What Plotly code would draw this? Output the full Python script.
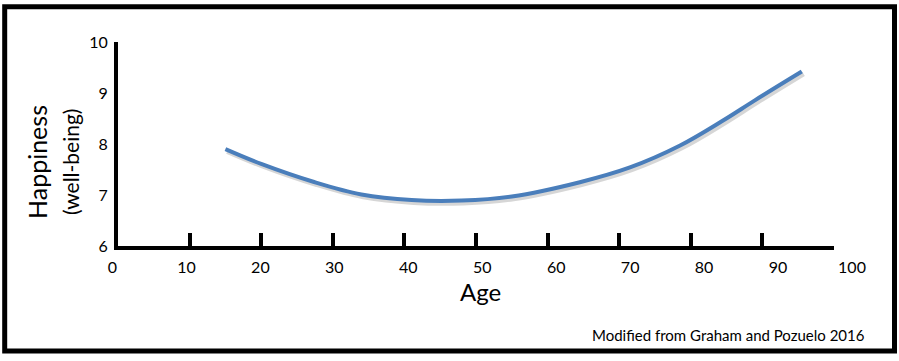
import plotly.graph_objects as go

# ---- data ----
ages = [15, 20, 27.5, 34, 41, 48, 55, 64.5, 71.5, 78.5, 84.5, 89, 95.5]
happiness = [7.90, 7.61, 7.25, 7.01, 6.90, 6.89, 6.97, 7.25, 7.54, 7.97, 8.46, 8.86, 9.42]
x_ticks = [0, 10, 20, 30, 40, 50, 60, 70, 80, 90, 100]
y_ticks = [6, 7, 8, 9, 10]

W, H = 899, 361
FONT = "Lato"

def px_x(p):
    return p / W

def px_y(p):
    return 1 - p / H

fig = go.Figure()

# soft drop shadow of the curve
fig.add_trace(go.Scatter(
    x=[a + 0.25 for a in ages], y=[v - 0.045 for v in happiness],
    mode="lines", line=dict(color="rgba(0,0,0,0.16)", width=5, shape="spline", smoothing=1.0),
    hoverinfo="skip", showlegend=False))

fig.add_trace(go.Scatter(
    x=ages, y=happiness, mode="lines",
    line=dict(color="#4a7ebb", width=4, shape="spline", smoothing=1.0),
    showlegend=False))

# invisible trace carrying the tick-label axis
fig.add_trace(go.Scatter(x=[x_ticks[0], x_ticks[-1]], y=[0, 0],
                         xaxis="x2", yaxis="y2", mode="markers", marker=dict(opacity=0),
                         hoverinfo="skip", showlegend=False))

fig.update_layout(
    width=W, height=H,
    margin=dict(l=0, r=0, t=0, b=0, autoexpand=False),
    paper_bgcolor="white", plot_bgcolor="rgba(0,0,0,0)",
    font=dict(family=FONT, color="black"),
    xaxis=dict(
        domain=[px_x(118), px_x(834)], range=[0, 100], automargin=False,
        anchor="y", showline=True, linewidth=4, linecolor="black",
        ticks="inside", ticklen=13, tickwidth=4, tickcolor="black",
        tickvals=x_ticks, showticklabels=False,
        showgrid=False, zeroline=False),
    yaxis=dict(
        domain=[px_y(246), px_y(42)], range=[6, 10], automargin=False,
        anchor="x", showline=True, linewidth=4, linecolor="black",
        ticks="", tickvals=y_ticks, ticklabelstandoff=3,
        tickfont=dict(family=FONT, size=16, color="black"),
        showgrid=False, zeroline=False),
    xaxis2=dict(
        domain=[px_x(112.5), px_x(852)], range=[0, 100], automargin=False,
        anchor="y2", showline=False, ticks="", tickvals=x_ticks,
        tickfont=dict(family=FONT, size=16, color="black"),
        showgrid=False, zeroline=False),
    yaxis2=dict(
        domain=[px_y(255.5), px_y(240)], range=[-1, 1], anchor="x2", automargin=False,
        visible=False, showgrid=False, zeroline=False),
    shapes=[dict(type="rect", xref="paper", yref="paper",
                 x0=px_x(4.7), x1=px_x(894.5), y0=px_y(351), y1=px_y(6.7),
                 line=dict(color="black", width=5), fillcolor="rgba(0,0,0,0)")],
    annotations=[
        dict(text="Happiness", x=px_x(37), y=px_y(162), xref="paper", yref="paper",
             textangle=-90, showarrow=False, font=dict(family=FONT, size=25, color="black"),
             xanchor="center", yanchor="middle"),
        dict(text="(well-being)", x=px_x(71), y=px_y(162), xref="paper", yref="paper",
             textangle=-90, showarrow=False, font=dict(family=FONT, size=21, color="black"),
             xanchor="center", yanchor="middle"),
        dict(text="Age", x=px_x(480), y=px_y(291), xref="paper", yref="paper",
             showarrow=False, font=dict(family=FONT, size=24, color="black"),
             xanchor="center", yanchor="middle"),
        dict(text="Modified from Graham and Pozuelo 2016", x=px_x(867), y=px_y(335),
             xref="paper", yref="paper", showarrow=False,
             font=dict(family=FONT, size=15, color="black"),
             xanchor="right", yanchor="middle"),
    ],
)

fig.write_html("out.html", config={"displayModeBar": False},
               post_script="document.body.style.margin='0';")
